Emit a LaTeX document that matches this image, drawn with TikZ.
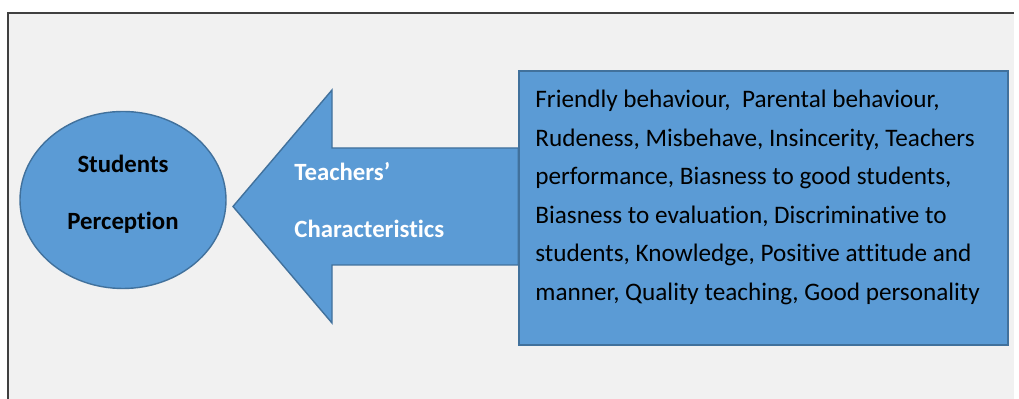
\documentclass[tikz,border=0pt]{standalone}
\usepackage{fontspec}
\setmainfont{Carlito}[Ligatures=NoCommon]
\usepackage{tikz}
\usetikzlibrary{shapes,shapes.geometric}
\usetikzlibrary{calc}
\definecolor{panelgray}{HTML}{F1F1F1}
\definecolor{framegray}{HTML}{404040}
\definecolor{bluefill}{HTML}{5B9BD5}
\definecolor{blueline}{HTML}{41719C}
\tikzset{
  bluebox/.style={fill=bluefill,draw=blueline,line width=0.7pt},
  headtext/.style={font=\bfseries\fontsize{12.4}{28.5}\selectfont},
}

\begin{document}
\begin{tikzpicture}[x=0.5pt,y=-0.5pt]
			\useasboundingbox (0,0) rectangle (1019,399);
			% panel
			\fill[panelgray] (8,13) rectangle (1014,399);
			\draw[framegray,line width=0.7pt] (8,399) -- (8,13) -- (1014,13);
			% ellipse
			\node[bluebox,ellipse,minimum width=103pt,minimum height=88.5pt] (perception) at (123,200) {};
			\node[headtext,align=center] (perceptiontext) at (123,194) {Students\\Perception};
			% box on the right
			\node[bluebox,rectangle,minimum width=244.5pt,minimum height=137pt] (traits) at (763.5,208) {};
			% big arrow
			\coordinate (tip) at (233,206.5);
			\draw[bluebox,line join=miter] (tip) -- ++(99,-116.5) -- ++(0,58) -- (traits.west |- 0,148) -- (traits.west |- 0,265) -- (332,265) -- ++(0,58) -- cycle;
			\node[bluebox,rectangle,minimum width=244.5pt,minimum height=137pt] at (traits) {};
			\node[headtext,text=white,align=left,anchor=north west,inner sep=0pt] (chars) at (294,162) {Teachers’\\Characteristics};
			\node[font=\fontsize{12.6}{19.25}\selectfont,align=left,anchor=north west,inner sep=0pt] (list) at (535,90) {Friendly behaviour,\ \ Parental behaviour,\\Rudeness, Misbehave, Insincerity, Teachers\\performance, Biasness to good students,\\Biasness to evaluation, Discriminative to\\students, Knowledge, Positive attitude and\\manner, Quality teaching, Good personality};
		\end{tikzpicture}
\end{document}
